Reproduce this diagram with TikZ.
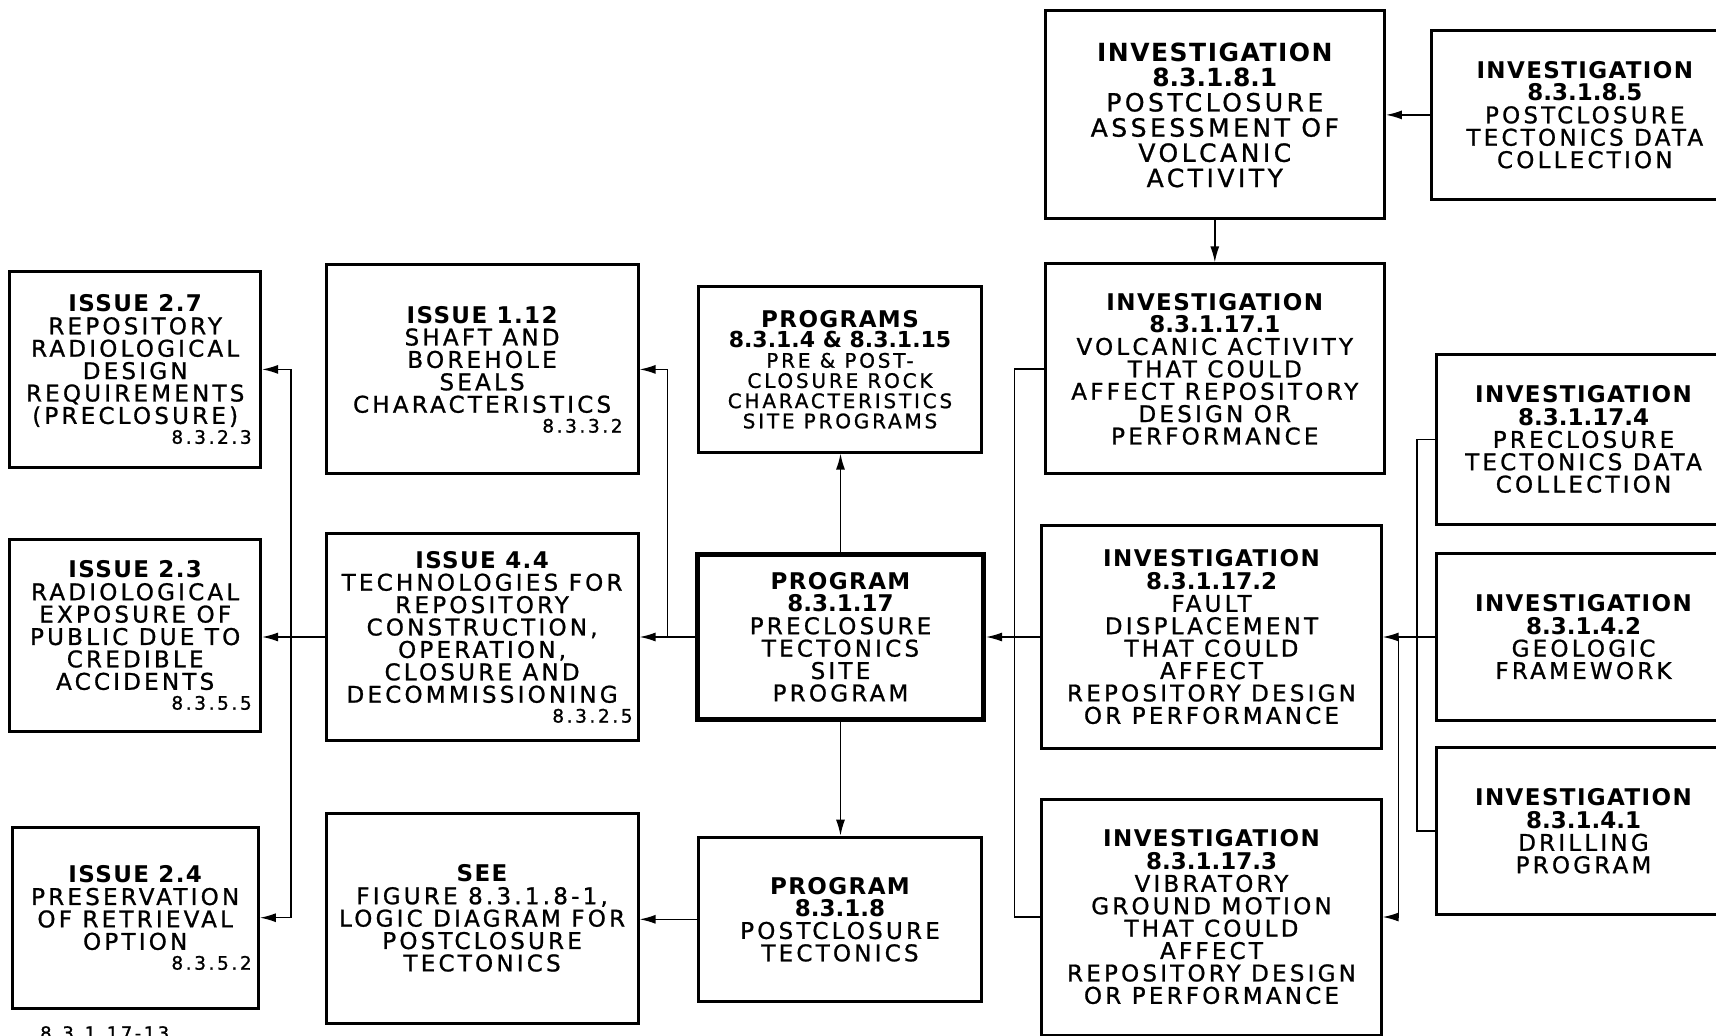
\documentclass[tikz,border=0pt]{standalone}
\usepackage{fontspec}
\usetikzlibrary{arrows.meta}
\newfontfamily\regf{DejaVu Sans}[LetterSpace=14, FakeBold=1]
\newfontfamily\hdf{DejaVu Sans}[LetterSpace=6]
\newfontfamily\nmf{DejaVu Sans}
\newcommand\hd[1]{{\hdf\bfseries #1}}
\newcommand\nm[1]{{\nmf\bfseries #1}}
\newcommand\rnum[2]{\makebox[#1pt][r]{\fontsize{18.5}{19}\selectfont #2}}
\begin{document}
\begin{tikzpicture}[x=1pt,y=-1pt,
  box/.style={draw, line width=3pt, inner sep=0pt, align=center,
    font=\regf\fontsize{23}{22.4}\selectfont},
  bx/.style n args={2}{box, minimum width=#1pt, minimum height=#2pt},
  conn/.style={line width=1.5pt},
  arr/.style={conn, -{Latex[length=16pt,width=9pt]}}]
\useasboundingbox (0,0) rectangle (1716,1036);
\clip (0,0) rectangle (1716,1036);
\fill[white] (0,0) rectangle (1716,1036);

% top right
\node[bx={339.2}{208}, font=\regf\fontsize{25}{25.2}\selectfont] (inv181) at (1214.8,114.9)
  {\hd{INVESTIGATION}\\ \nm{8.3.1.8.1}\\ POSTCLOSURE\\ ASSESSMENT OF\\ VOLCANIC\\ ACTIVITY};
\node[bx={306.5}{168.6}] (inv185) at (1584.8,114.9)
  {\hd{INVESTIGATION}\\ \nm{8.3.1.8.5}\\ POSTCLOSURE\\ TECTONICS DATA\\ COLLECTION};
\node[bx={339.2}{210.1}] (inv171) at (1214.8,368.9)
  {\hd{INVESTIGATION}\\ \nm{8.3.1.17.1}\\ VOLCANIC ACTIVITY\\ THAT COULD\\ AFFECT REPOSITORY\\ DESIGN OR\\ PERFORMANCE};
\node[bx={339.2}{223.3}] (inv172) at (1211.5,637)
  {\hd{INVESTIGATION}\\ \nm{8.3.1.17.2}\\ FAULT\\ DISPLACEMENT\\ THAT COULD\\ AFFECT\\ REPOSITORY DESIGN\\ OR PERFORMANCE};
\node[bx={339.2}{236}] (inv173) at (1211.5,917)
  {\hd{INVESTIGATION}\\ \nm{8.3.1.17.3}\\ VIBRATORY\\ GROUND MOTION\\ THAT COULD\\ AFFECT\\ REPOSITORY DESIGN\\ OR PERFORMANCE};
\node[bx={295}{169.6}] (inv174) at (1583.5,439.4)
  {\hd{INVESTIGATION}\\ \nm{8.3.1.17.4}\\ PRECLOSURE\\ TECTONICS DATA\\ COLLECTION};
\node[bx={295}{166.3}] (inv142) at (1583.5,637)
  {\hd{INVESTIGATION}\\ \nm{8.3.1.4.2}\\ GEOLOGIC\\ FRAMEWORK};
\node[bx={295}{167.4}] (inv141) at (1583.5,831.2)
  {\hd{INVESTIGATION}\\ \nm{8.3.1.4.1}\\ DRILLING\\ PROGRAM};

% middle column
\node[bx={283.5}{165.3}, font=\regf\fontsize{20}{20.2}\selectfont] (progs) at (840,369.4)
  {{\fontsize{23}{22.4}\selectfont\hd{PROGRAMS}}\\ {\fontsize{22}{22.4}\selectfont\nm{8.3.1.4 \& 8.3.1.15}}\\ PRE \& POST-\\ CLOSURE ROCK\\ CHARACTERISTICS\\ SITE PROGRAMS};
\node[bx={286}{164.1}, line width=5pt] (prog17) at (840.5,637)
  {\hd{PROGRAM}\\ \nm{8.3.1.17}\\ PRECLOSURE\\ TECTONICS\\ SITE\\ PROGRAM};
\node[bx={283.5}{164.2}] (prog18) at (840,919.3)
  {\hd{PROGRAM}\\ \nm{8.3.1.8}\\ POSTCLOSURE\\ TECTONICS};

% second column
\node[bx={311.9}{209.1}] (iss112) at (482.1,369.4)
  {\hd{ISSUE 1.12}\\ SHAFT AND\\ BOREHOLE\\ SEALS\\ CHARACTERISTICS\\[-2.5pt] \rnum{281}{8.3.3.2}};
\node[bx={311.9}{207.9}] (iss44) at (482.1,637)
  {\hd{ISSUE 4.4}\\ TECHNOLOGIES FOR\\ REPOSITORY\\ CONSTRUCTION,\\ OPERATION,\\ CLOSURE AND\\ DECOMMISSIONING\\[-2.5pt] \rnum{301}{8.3.2.5}};
\node[bx={311.9}{210.2}] (see) at (482.1,918.2)
  {\hd{SEE}\\ FIGURE 8.3.1.8-1,\\ LOGIC DIAGRAM FOR\\ POSTCLOSURE\\ TECTONICS};

% first column
\node[bx={250.7}{195.9}] (iss27) at (135.2,369.4)
  {\hd{ISSUE 2.7}\\ REPOSITORY\\ RADIOLOGICAL\\ DESIGN\\ REQUIREMENTS\\ (PRECLOSURE)\\[-2.5pt] \rnum{233}{8.3.2.3}};
\node[bx={250.7}{191.6}] (iss23) at (135.2,635.3)
  {\hd{ISSUE 2.3}\\ RADIOLOGICAL\\ EXPOSURE OF\\ PUBLIC DUE TO\\ CREDIBLE\\ ACCIDENTS\\[-2.5pt] \rnum{233}{8.3.5.5}};
\node[bx={246.3}{180.6}] (iss24) at (135.2,917.7)
  {\hd{ISSUE 2.4}\\ PRESERVATION\\ OF RETRIEVAL\\ OPTION\\[-2.5pt] \rnum{233}{8.3.5.2}};

\node[anchor=north west, inner sep=0pt, font=\regf\fontsize{18}{19}\selectfont] (figno) at (40,1026) {8.3.1.17-13};

% connectors
\draw[arr] (inv185.west) -- (inv185.west -| inv181.east);
\draw[arr] (inv181.south) -- (inv181.south |- inv171.north);

\coordinate (busL) at (1014.5,637);
\draw[conn] (inv171.west) -| (busL) |- (inv173.west);
\draw[arr] (inv172.west) -- (inv172.west -| prog17.east);

\coordinate (busR) at (1417.2,637);
\coordinate (busR2) at (1398.6,637);
\draw[conn] (inv174.west) -| (busR) |- (inv141.west);
\draw[arr] (inv142.west) -- (inv142.west -| inv172.east);
\draw[arr] (busR2) |- (inv173.east);

\draw[arr] (prog17.north) -- (prog17.north |- progs.south);
\draw[arr] (prog17.south) -- (prog17.south |- prog18.north);
\draw[arr] (prog17.west) -- (prog17.west -| iss44.east);
\coordinate (b1) at (667.6,637);
\draw[arr] (b1) |- (iss112.east);
\draw[arr] (prog18.west) -- (prog18.west -| see.east);

\draw[arr] (iss44.west) -- (iss44.west -| iss23.east);
\coordinate (b2) at (291.1,637);
\draw[arr] (b2) |- (iss27.east);
\draw[arr] (b2) |- (iss24.east);
\end{tikzpicture}
\end{document}
